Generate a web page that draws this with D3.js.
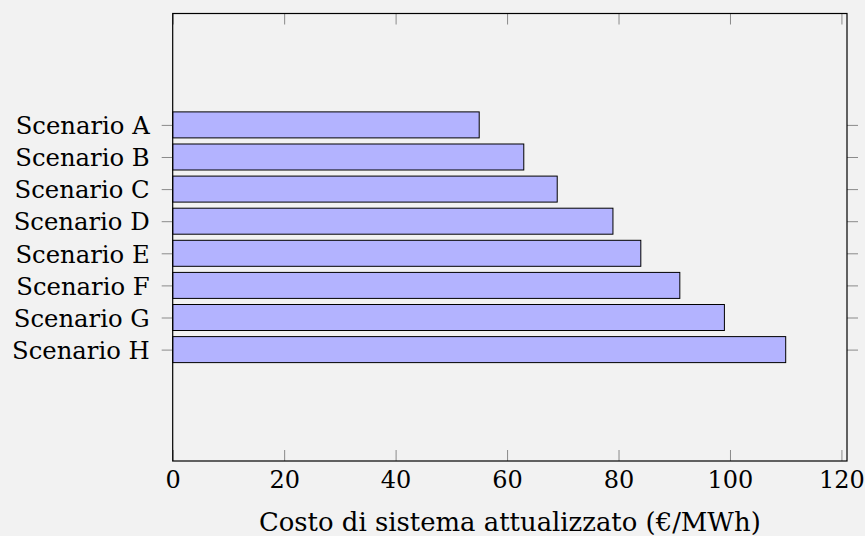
<!DOCTYPE html>
<html>
<head>
<meta charset="utf-8">
<script src="https://cdn.jsdelivr.net/npm/d3@7"></script>
<style>
  html, body { margin: 0; padding: 0; background: #f2f2f2; }
  svg { display: block; }
  text { font-family: "DejaVu Serif", serif; fill: #000; }
</style>
</head>
<body>
<div id="chart"></div>
<script>
const scenarios = ["Scenario A", "Scenario B", "Scenario C", "Scenario D",
                   "Scenario E", "Scenario F", "Scenario G", "Scenario H"];
const costs = [55, 63, 69, 79, 84, 91, 99, 110];
const xTicks = [0, 20, 40, 60, 80, 100, 120];
const xTitle = "Costo di sistema attualizzato (€/MWh)";

const width = 865, height = 536;
const mLeft = 172.7, mRight = 847, mTop = 13.5, mBottom = 461;

const svg = d3.select("#chart").append("svg")
    .attr("width", width)
    .attr("height", height);

svg.append("rect")
    .attr("width", width).attr("height", height)
    .attr("fill", "#f2f2f2");

const x = d3.scaleLinear().domain([0, 121]).range([mLeft, mRight]);
const y = d3.scalePoint().domain(scenarios).range([mTop, mBottom]).padding(3.47);
const barH = 26;

// bars
svg.append("g")
  .selectAll("rect")
  .data(scenarios)
  .enter().append("rect")
    .attr("x", x(0))
    .attr("y", d => y(d) - barH / 2)
    .attr("width", (d, i) => x(costs[i]) - x(0))
    .attr("height", barH)
    .attr("fill", "#b3b3ff")
    .attr("stroke", "#000")
    .attr("stroke-width", 1);

function styleTicks(g) {
  g.select(".domain").remove();
  g.selectAll(".tick line").attr("stroke", "#8a8a8a").attr("stroke-width", 1);
}

// x axis bottom, ticks pointing in
const xb = svg.append("g")
    .attr("transform", `translate(0,${mBottom})`)
    .call(d3.axisBottom(x).tickValues(xTicks).tickSize(-11).tickPadding(10))
    .call(styleTicks);
xb.selectAll(".tick text")
    .attr("font-family", "DejaVu Serif")
    .attr("font-size", 24)
    .attr("fill", "#000");

// x axis top, ticks pointing in, no labels
svg.append("g")
    .attr("transform", `translate(0,${mTop})`)
    .call(d3.axisTop(x).tickValues(xTicks).tickSize(-11).tickFormat(""))
    .call(styleTicks);

// y axis left, ticks outward
const yl = svg.append("g")
    .attr("transform", `translate(${mLeft},0)`)
    .call(d3.axisLeft(y).tickSize(11).tickPadding(12))
    .call(styleTicks);
yl.selectAll(".tick text")
    .attr("font-family", "DejaVu Serif")
    .attr("font-size", 24.3)
    .attr("fill", "#000")
    .attr("dy", "0.36em");

// y axis right, ticks outward, no labels
svg.append("g")
    .attr("transform", `translate(${mRight},0)`)
    .call(d3.axisRight(y).tickSize(11).tickFormat(""))
    .call(styleTicks);

// frame
svg.append("rect")
    .attr("x", mLeft).attr("y", mTop)
    .attr("width", mRight - mLeft).attr("height", mBottom - mTop)
    .attr("fill", "none")
    .attr("stroke", "#000")
    .attr("stroke-width", 1.2);

// x title
svg.append("text")
    .attr("x", (mLeft + mRight) / 2)
    .attr("y", 531)
    .attr("text-anchor", "middle")
    .attr("font-size", 25.9)
    .text(xTitle);
</script>
</body>
</html>
